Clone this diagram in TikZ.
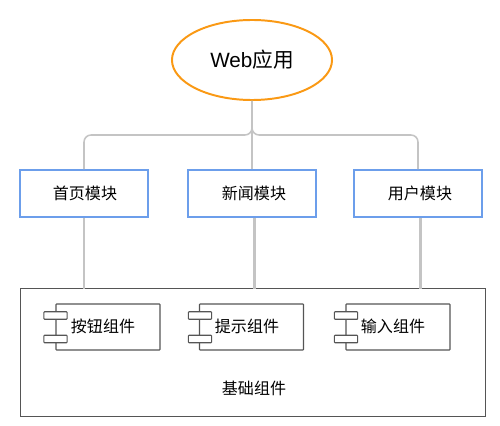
\documentclass[tikz,border=0pt]{standalone}
\usepackage{fontspec}
\setmainfont{Liberation Sans}
\newfontfamily\cjk{Noto Sans CJK SC}
\usepackage{xcolor}
\usetikzlibrary{shapes.geometric}
\definecolor{NaranjaApp}{RGB}{250,153,20}
\definecolor{AzulModulo}{RGB}{108,158,235}
\definecolor{GrisEnlace}{RGB}{196,196,196}
\definecolor{GrisBorde}{RGB}{85,85,85}
\tikzset{
  enlace/.style={draw=GrisEnlace,line width=1.1pt},
  modulo/.style={draw=AzulModulo,line width=1.4pt,minimum width=3.2cm,minimum height=1.175cm,
    inner sep=0pt,font=\cjk\fontsize{11.4}{14}\selectfont},
  cuerpo/.style={draw=GrisBorde,line width=.8pt,fill=white,rounded corners=.5pt,
    minimum width=2.6cm,minimum height=1.15cm,inner sep=0pt},
  puerto/.style={draw=GrisBorde,line width=.8pt,fill=white,rounded corners=.5pt,
    minimum width=.58cm,minimum height=.19cm,inner sep=0pt},
  texto/.style={inner sep=0pt,font=\cjk\fontsize{11.4}{14}\selectfont},
}
\begin{document}
\begin{tikzpicture}[x=.025cm,y=-.025cm]
  \useasboundingbox (0,0) rectangle (500,426);

  \node[ellipse,draw=NaranjaApp,line width=1.4pt,minimum width=4cm,minimum height=2cm,inner sep=0pt,
    font=\fontsize{14.7}{17}\selectfont] (app) at (252,60) {Web{\cjk 应用}};

  \node[modulo] (inicio) at (84,193.5) {\hspace*{1.4pt}首页模块};
  \node[modulo] (noticias) at (252,193.5) {\hspace*{2.8pt}新闻模块};
  \node[modulo] (usuario) at (418,193.5) {\hspace*{2.8pt}用户模块};

  \node[draw=GrisBorde,line width=.7pt,minimum width=11.6cm,minimum height=3.175cm,inner sep=0pt] (base) at (253,352.5) {};
  \node[texto] (baseTexto) at (254,388) {基础组件};

  \coordinate (bus) at (252,135);
  \draw[enlace,rounded corners=5pt] (app.south) -- (bus) -| (inicio.north);
  \draw[enlace,rounded corners=5pt] (app.south) -- (bus) -| (usuario.north);
  \draw[enlace] (app.south) -- (noticias.north);

  \coordinate (bajoInicio) at (84,289);
  \coordinate (bajoNoticias) at (254.5,289);
  \coordinate (bajoUsuario) at (420.5,289);
  \draw[enlace,line width=1.5pt] (bajoInicio |- inicio.south) -- (bajoInicio);
  \draw[enlace,line width=1.5pt] (bajoNoticias |- noticias.south) -- (bajoNoticias);
  \draw[enlace,line width=1.5pt] (bajoUsuario |- usuario.south) -- (bajoUsuario);

  \node[cuerpo] (boton) at (108,327) {};
  \node[puerto] (botonA) at (55.5,315.5) {};
  \node[puerto] (botonB) at (55.5,339) {};
  \node[texto] (botonTexto) at (103,326.5) {按钮组件};

  \node[cuerpo] (aviso) at (251.5,327) {};
  \node[puerto] (avisoA) at (200,315.5) {};
  \node[puerto] (avisoB) at (200,339) {};
  \node[texto] (avisoTexto) at (247,326.5) {提示组件};

  \node[cuerpo] (entrada) at (398,327) {};
  \node[puerto] (entradaA) at (346,315.5) {};
  \node[puerto] (entradaB) at (346,339) {};
  \node[texto] (entradaTexto) at (393,326.5) {输入组件};
\end{tikzpicture}
\end{document}
